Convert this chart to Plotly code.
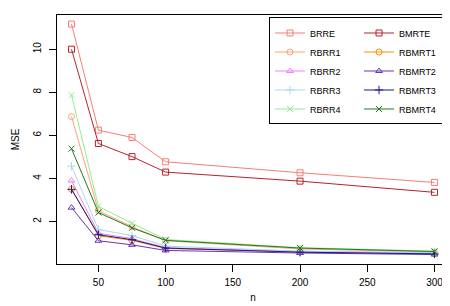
import plotly.graph_objects as go

n = [30, 50, 75, 100, 200, 300]

BRRE = [11.17, 6.24, 5.90, 4.77, 4.26, 3.81]
BMRTE = [10.00, 5.62, 5.01, 4.29, 3.87, 3.35]
RBRR1 = [6.87, 2.50, 1.75, 1.10, 0.72, 0.58]
RBMRT1 = [3.49, 1.33, 1.12, 0.74, 0.58, 0.50]
RBRR2 = [3.90, 1.45, 1.20, 0.78, 0.60, 0.52]
RBMRT2 = [2.64, 1.10, 0.91, 0.65, 0.53, 0.46]
RBRR3 = [4.57, 1.62, 1.34, 0.85, 0.62, 0.55]
RBMRT3 = [3.49, 1.38, 1.15, 0.76, 0.57, 0.49]
RBRR4 = [7.87, 2.70, 1.91, 1.16, 0.78, 0.62]
RBMRT4 = [5.38, 2.41, 1.70, 1.12, 0.76, 0.60]

x_ticks = [50, 100, 150, 200, 250, 300]
y_ticks = [2, 4, 6, 8, 10]

series = [
    ("BRRE", BRRE, "#F77F72", "square-open"),
    ("BMRTE", BMRTE, "#B8232B", "square-open"),
    ("RBRR1", RBRR1, "#FFA07A", "circle-open"),
    ("RBMRT1", RBMRT1, "#FF8C00", "circle-open"),
    ("RBRR2", RBRR2, "#EE82EE", "triangle-up-open"),
    ("RBMRT2", RBMRT2, "#6A35B0", "triangle-up-open"),
    ("RBRR3", RBRR3, "#A8D8EA", "cross-thin-open"),
    ("RBMRT3", RBMRT3, "#1A1A8C", "cross-thin-open"),
    ("RBRR4", RBRR4, "#90EE90", "x-thin-open"),
    ("RBMRT4", RBMRT4, "#1E7B1E", "x-thin-open"),
]

fig = go.Figure()
for name, vals, col, sym in series:
    fig.add_trace(go.Scatter(
        x=n, y=vals, name=name, mode="lines+markers",
        line=dict(color=col, width=1),
        marker=dict(symbol=sym, size=6, color=col, line=dict(color=col, width=1)),
    ))

family = "Liberation Sans, Arial, Helvetica, sans-serif"
font = dict(family=family, size=10, color="black")
legfont = dict(family=family, size=9, color="black")

fig.update_layout(
    width=450, height=306,
    margin=dict(l=49, r=9, t=7, b=50, autoexpand=False),
    paper_bgcolor="white", plot_bgcolor="white",
    font=font,
    showlegend=True,
    legend=dict(
        orientation="h", x=1.0001, xanchor="right", y=0.99, yanchor="top",
        bgcolor="white", bordercolor="black", borderwidth=1,
        font=legfont, itemwidth=30,
        entrywidth=44, entrywidthmode="pixels",
    ),
    xaxis=dict(
        range=[19.2, 310.8], tickvals=x_ticks, ticks="outside", ticklen=7,
        tickcolor="black", showline=True, linecolor="black", linewidth=1,
        mirror=True, showgrid=False, zeroline=False, ticklabelstandoff=2,
        title=dict(text="n", standoff=6, font=dict(size=10)),
    ),
    yaxis=dict(
        range=[0.02, 11.59], tickvals=y_ticks, ticks="outside", ticklen=7,
        tickcolor="black", showline=True, linecolor="black", linewidth=1,
        mirror=True, showgrid=False, zeroline=False, tickangle=-90,
        ticklabelstandoff=4,
        title=dict(text="MSE", standoff=10, font=dict(size=10)),
    ),
)

fig.write_html("out.html")
